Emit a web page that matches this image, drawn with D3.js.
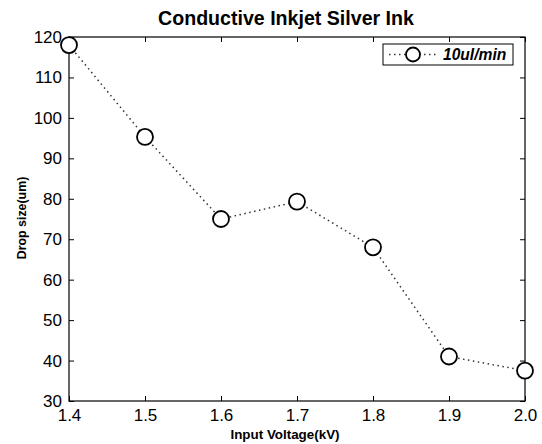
<!DOCTYPE html>
<html>
<head>
<meta charset="utf-8">
<script src="https://cdn.jsdelivr.net/npm/d3@7"></script>
<style>
  body { margin: 0; background: #fff; }
  text { font-family: "Liberation Sans", Arial, sans-serif; }
</style>
</head>
<body>
<svg></svg>
<script>
const voltages = [1.4, 1.5, 1.6, 1.7, 1.8, 1.9, 2.0]
const dropSizes = [118, 95.3, 75, 79.3, 68, 41, 37.5]
const xTicks = [1.4, 1.5, 1.6, 1.7, 1.8, 1.9, 2.0]
const yTicks = [30, 40, 50, 60, 70, 80, 90, 100, 110, 120]
const seriesName = '10ul/min'

const data = voltages.map((v, i) => ({v, s: dropSizes[i]}))

const [svgWidth, svgHeight] = [542, 444]
const margin = {top: 37, right: 17, bottom: 43, left: 69}
const svg = d3.select('svg').attr('width', svgWidth).attr('height', svgHeight)

const width = svgWidth - margin.left - margin.right
const height = svgHeight - margin.top - margin.bottom
const translate = (x, y) => `translate(${x}, ${y})`

const container = svg.append('g').attr('transform', translate(margin.left, margin.top))

const x = d3.scaleLinear().domain([1.4, 2.0]).range([0, width])
const y = d3.scaleLinear().domain([30, 120]).range([height, 0])

// box
container.append('rect')
  .attr('width', width).attr('height', height)
  .attr('fill', 'none').attr('stroke', '#000').attr('stroke-width', 1.2)

const styleAxis = g => {
  g.select('.domain').remove()
  g.selectAll('line').attr('stroke', '#000')
  g.selectAll('text').style('font-size', '17px').attr('fill', '#000')
}

// inward ticks, labels outside
container.append('g').attr('transform', translate(0, height))
  .call(d3.axisBottom(x).tickValues(xTicks).tickFormat(d3.format('.1f')).tickSizeInner(-5).tickPadding(8))
  .call(styleAxis)
container.append('g')
  .call(d3.axisLeft(y).tickValues(yTicks).tickSizeInner(-5).tickPadding(7))
  .call(styleAxis)
container.append('g')
  .call(d3.axisTop(x).tickValues(xTicks).tickSizeInner(-5).tickFormat(''))
  .call(styleAxis)
container.append('g').attr('transform', translate(width, 0))
  .call(d3.axisRight(y).tickValues(yTicks).tickSizeInner(-5).tickFormat(''))
  .call(styleAxis)

const line = d3.line().x(d => x(d.v)).y(d => y(d.s))

container.append('path').datum(data)
  .attr('d', line)
  .attr('fill', 'none')
  .attr('stroke', '#333')
  .attr('stroke-width', 1.5)
  .attr('stroke-dasharray', '1.5,3.5')

container.selectAll('circle.pt').data(data).enter().append('circle')
  .attr('class', 'pt')
  .attr('cx', d => x(d.v))
  .attr('cy', d => y(d.s))
  .attr('r', 8)
  .attr('fill', '#fff')
  .attr('stroke', '#000')
  .attr('stroke-width', 1.8)

// title + labels
svg.append('text')
  .attr('x', 286).attr('y', 25)
  .attr('text-anchor', 'middle')
  .style('font-size', '19.6px').style('font-weight', 'bold')
  .text('Conductive Inkjet Silver Ink')

svg.append('text')
  .attr('x', 285).attr('y', 439)
  .attr('text-anchor', 'middle')
  .style('font-size', '13.4px').style('font-weight', 'bold')
  .text('Input Voltage(kV)')

svg.append('text')
  .attr('transform', `translate(26, ${margin.top + height / 2 - 1}) rotate(-90)`)
  .attr('text-anchor', 'middle')
  .style('font-size', '12.4px').style('font-weight', 'bold')
  .text('Drop size(um)')

// legend
const legend = svg.append('g').attr('transform', translate(383, 44))
legend.append('rect')
  .attr('width', 130).attr('height', 21)
  .attr('fill', '#fff').attr('stroke', '#000').attr('stroke-width', 1)
legend.append('line')
  .attr('x1', 6).attr('x2', 55).attr('y1', 10.5).attr('y2', 10.5)
  .attr('stroke', '#333').attr('stroke-width', 1.5).attr('stroke-dasharray', '1.5,3.5')
legend.append('circle')
  .attr('cx', 30).attr('cy', 10.5).attr('r', 7)
  .attr('fill', '#fff').attr('stroke', '#000').attr('stroke-width', 1.8)
legend.append('text')
  .attr('x', 60).attr('y', 16)
  .style('font-size', '15.6px').style('font-weight', 'bold').style('font-style', 'italic')
  .text(seriesName)
</script>
</body>
</html>
